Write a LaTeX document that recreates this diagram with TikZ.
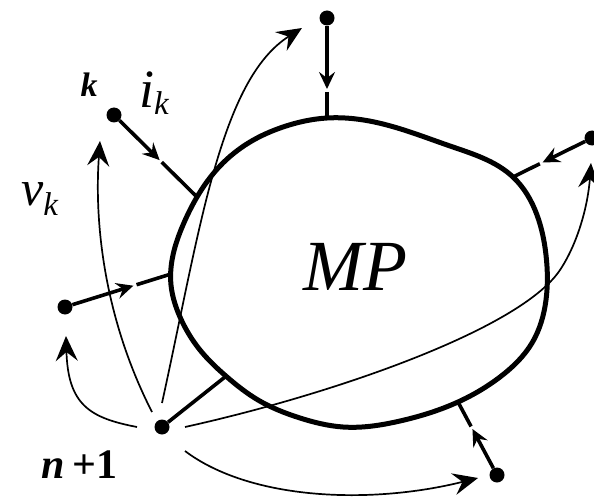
\documentclass[tikz,border=0pt]{standalone}
\usepackage{fontspec}
\setmainfont{Liberation Serif}
\usetikzlibrary{arrows.meta,calc,hobby}
\begin{document}
\begin{tikzpicture}[x=1pt,y=-1pt,
  blob/.style={line width=5pt},
  lead/.style={line width=3.6pt},
  thinline/.style={line width=1.7pt},
  leadarrow/.style={lead,-{Stealth[length=17pt,width=16pt,inset=6pt]}},
  thinarrow/.style={thinline,-{Stealth[length=25pt,width=22pt,inset=9pt]}},
  term/.style={circle,fill=black,inner sep=0pt,minimum size=15pt},
  lbl/.style={inner sep=0pt}]
\useasboundingbox (0,0) rectangle (594,500);

% the multipole boundary
\draw[blob,use Hobby shortcut,closed=true]
  (327,118) .. (383,124) .. (450,146) .. (513,177) .. (537,215) ..
  (546,255) .. (546,300) .. (532,343) .. (500,377) .. (458,402) ..
  (400,421) .. (343,427) .. (300,418) .. (258,400) .. (227,377) .. (200,350) ..
  (180,317) .. (171,285) .. (173,255) .. (183,225) .. (197,197) ..
  (220,166) .. (250,142) .. (283,127);

% contact points on the boundary
\coordinate (cT) at (327,118);
\coordinate (cK) at (197,197);
\coordinate (cR) at (513,177);
\coordinate (cL) at (171,274);
\coordinate (cB) at (458,402);
\coordinate (cN) at (225,377);

% terminals
\node[term] (T) at (327,18) {};
\node[term] (K) at (114,115) {};
\node[term] (R) at (592,138) {};
\node[term] (L) at (65,307) {};
\node[term] (B) at (497,475) {};
\node[term] (N) at (162,427) {};

% leads with current arrows
\draw[leadarrow] (T) -- ($(T)!0.71!(cT)$);
\draw[lead] ($(T)!0.74!(cT)$) -- (cT);
\draw[leadarrow] (K) -- ($(K)!0.55!(cK)$);
\draw[lead] ($(K)!0.575!(cK)$) -- (cK);
\draw[leadarrow] (R) -- ($(R)!0.625!(cR)$);
\draw[lead] ($(R)!0.66!(cR)$) -- (cR);
\draw[leadarrow] (L) -- ($(L)!0.645!(cL)$);
\draw[lead] ($(L)!0.675!(cL)$) -- (cL);
\draw[leadarrow] (B) -- ($(B)!0.63!(cB)$);
\draw[lead] ($(B)!0.665!(cB)$) -- (cB);
\draw[lead] (N) -- (cN);

% voltage arrows from the reference node n+1
\coordinate (s1) at (137,427);  \coordinate (e1) at (66,336);
\coordinate (s2) at (152,412);  \coordinate (e2) at (100,141);
\coordinate (s3) at (162,403);  \coordinate (e3) at (302,28);
\coordinate (s4) at (185,427);  \coordinate (e4) at (591,163);
\coordinate (s5) at (185,451);  \coordinate (e5) at (478,478);
\draw[thinarrow] (s1) .. controls (90,418) and (68,405) .. (e1);
\draw[thinarrow] (s2) .. controls (105,320) and (94,225) .. (e2);
\draw[thinarrow] (s3) .. controls (200,230) and (220,80) .. (e3);
\draw[thinarrow] (s4) .. controls (330,395) and (520,330) .. (560,270)
                      .. controls (578,243) and (588,205) .. (e4);
\draw[thinarrow] (s5) .. controls (250,500) and (370,505) .. (e5);

% labels
\node[lbl,anchor=base] (klbl) at (89,97)
  {\fontsize{34}{34}\selectfont\bfseries\itshape k};
\node[lbl,anchor=base west] (ilbl) at (139,108)
  {\fontsize{54}{54}\selectfont\itshape i\raisebox{-7pt}{\fontsize{33}{33}\selectfont k}};
\node[lbl,anchor=base west] (vlbl) at (21,205)
  {\fontsize{50}{50}\selectfont\itshape v\raisebox{-10pt}{\fontsize{33}{33}\selectfont k}};
\node[lbl,anchor=base west] (nlbl) at (41,478)
  {\fontsize{42}{42}\selectfont\bfseries\itshape n\hspace{8pt}\upshape +1};
\node[lbl,anchor=base] (mp) at (355,290)
  {\fontsize{72}{72}\selectfont\itshape MP};
\end{tikzpicture}
\end{document}
